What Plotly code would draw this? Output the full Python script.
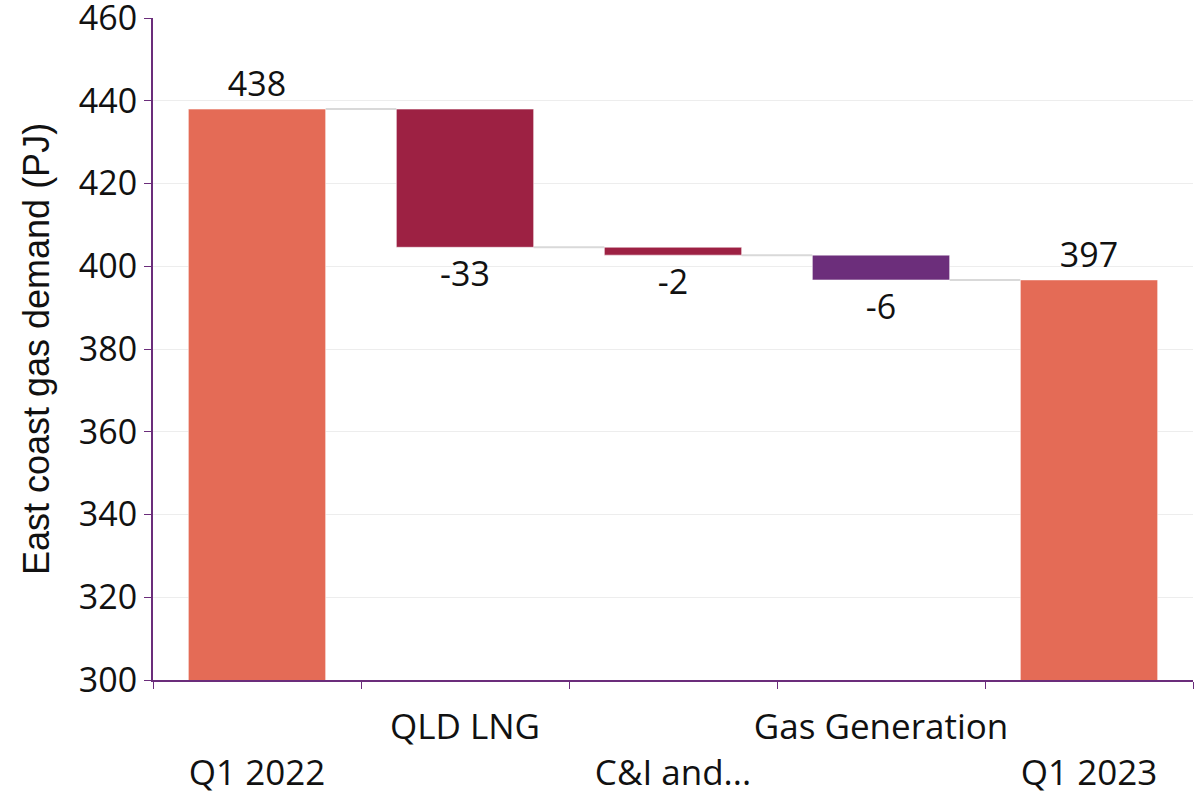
import plotly.graph_objects as go

categories = ["Q1 2022", "QLD LNG", "C&I and...", "Gas Generation", "Q1 2023"]
tick_labels = ["<br>Q1 2022", "QLD LNG", "<br>C&I and...", "Gas Generation", "<br>Q1 2023"]
start_value = 438.0
changes = [-33.4, -1.9, -6.0]
colors = ["#E46B56", "#9D2143", "#9D2143", "#6C2E7B", "#E46B56"]

# running levels
levels = [start_value]
for c in changes:
    levels.append(levels[-1] + c)
end_value = levels[-1]

bases = [0] + levels[:-1] + [0]
ys = [start_value] + changes + [end_value]
texts = [f"{v:.0f}" for v in ys]

purple = "#6B2D7B"
bar_w = 0.66

fig = go.Figure()
fig.add_trace(go.Bar(
    x=categories, y=ys, base=bases, width=bar_w,
    marker=dict(color=colors, line=dict(width=1, color="rgba(255,255,255,0.5)")),
    text=texts, textposition="outside", cliponaxis=False,
    textfont=dict(family="Open Sans", size=34, color="#111111"),
    hoverinfo="skip",
))

shapes = []
for i in range(len(categories) - 1):
    shapes.append(dict(
        type="line", xref="x", yref="y",
        x0=i + bar_w / 2, x1=i + 1 - bar_w / 2,
        y0=levels[min(i, len(levels) - 1)], y1=levels[min(i, len(levels) - 1)],
        line=dict(color="#D9D9D9", width=2), layer="below",
    ))

fig.update_layout(
    width=1204, height=794,
    margin=dict(l=153, r=11, t=18, b=114),
    plot_bgcolor="white", paper_bgcolor="white",
    showlegend=False,
    shapes=shapes,
    font=dict(family="Open Sans", size=34, color="#111111"),
)
fig.update_xaxes(
    type="category", tickmode="array", tickvals=categories, ticktext=tick_labels,
    tickson="boundaries", ticks="outside", ticklen=7, tickcolor=purple, tickwidth=1,
    showline=True, linecolor=purple, linewidth=2, showgrid=False,
    tickfont=dict(family="Open Sans", size=35, color="#111111"),
    tickangle=0, automargin=False, ticklabelstandoff=15,
    range=[-0.5, 4.5],
)
fig.update_yaxes(
    range=[300, 460.02], tickmode="array", tickvals=[300, 320, 340, 360, 380, 400, 420, 440, 460],
    ticks="outside", ticklen=7, tickcolor=purple, tickwidth=1,
    showline=True, linecolor=purple, linewidth=2, automargin=False,
    ticklabeloverflow="allow",
    showgrid=True, gridcolor="#EDEDED", gridwidth=1, zeroline=False,
    tickfont=dict(family="Open Sans", size=34, color="#111111"),
    title=dict(text="East coast gas demand (PJ)", standoff=18,
               font=dict(family="Liberation Sans", size=36, color="#111111")),
)

fig.write_html("out.html", config={"displayModeBar": False},
               post_script="document.body.style.margin='0';document.body.style.overflow='hidden';")
